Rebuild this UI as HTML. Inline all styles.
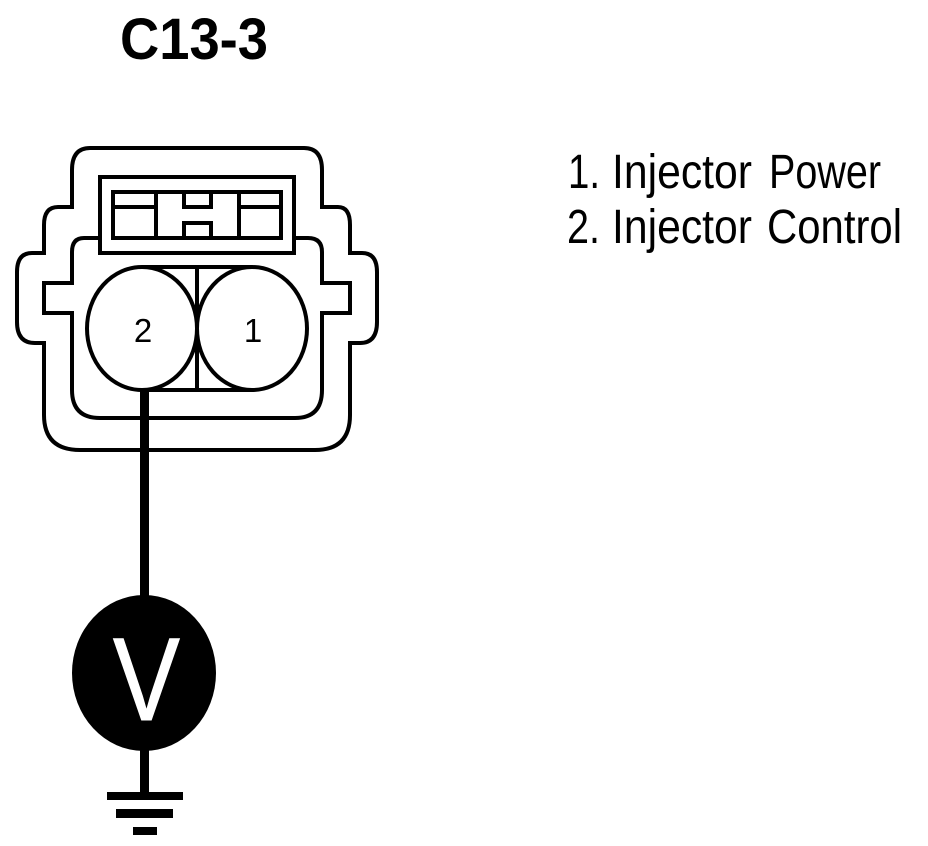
<!DOCTYPE html>
<html><head><meta charset="utf-8"><style>html,body{margin:0;padding:0;background:#fff}svg{display:block}</style></head>
<body>
<svg width="928" height="846" viewBox="0 0 928 846" xmlns="http://www.w3.org/2000/svg" font-family="'Liberation Sans',sans-serif">
<rect width="928" height="846" fill="#fff"/>
<text x="120" y="59" font-size="58" font-weight="bold" textLength="148" lengthAdjust="spacingAndGlyphs">C13-3</text>
<g font-size="48">
<text x="568" y="188" textLength="32" lengthAdjust="spacingAndGlyphs">1.</text>
<text x="612" y="188" textLength="140" lengthAdjust="spacingAndGlyphs">Injector</text>
<text x="769" y="188" textLength="112" lengthAdjust="spacingAndGlyphs">Power</text>
<text x="567" y="243" textLength="33" lengthAdjust="spacingAndGlyphs">2.</text>
<text x="612" y="243" textLength="140" lengthAdjust="spacingAndGlyphs">Injector</text>
<text x="767" y="243" textLength="135" lengthAdjust="spacingAndGlyphs">Control</text>
</g>
<g fill="none" stroke="#000" stroke-width="4">
<path d="M90 148H304Q322 148 322 170V207H338Q350 207 350 225V253H362Q377 253 377 272V322Q377 343 360 343H350V415Q350 450 315 450H80Q44 450 44 415V343H35Q17 343 17 322V272Q17 253 32 253H44V225Q44 207 58 207H72V170Q72 148 90 148Z"/>
<path d="M100 238H84Q72 238 72 252V283H44V313H72V390Q72 418 100 418H295Q322 418 322 390V313H350V283H322V252Q322 238 308 238H294"/>
<rect x="100" y="177" width="194" height="76"/>
<rect x="113" y="192" width="168" height="46"/>
<path d="M113 207H156M156 192V238M184 192V207H211V192M184 238V223H211V238M239 192V238M239 207H281"/>
<path d="M142 267H252M142 390H252M197 267V390"/>
<ellipse cx="142" cy="328.500" rx="55" ry="61.500" fill="#fff"/>
<ellipse cx="252" cy="328.500" rx="55" ry="61.500" fill="#fff"/>
</g>
<text x="143" y="342" font-size="33" text-anchor="middle">2</text>
<text x="253" y="342" font-size="33" text-anchor="middle">1</text>
<rect x="140" y="390" width="9" height="210"/>
<ellipse cx="144" cy="673" rx="72" ry="78"/>
<rect x="140" y="750" width="9" height="44"/>
<rect x="107" y="792" width="76" height="8"/>
<rect x="116" y="809" width="57" height="9"/>
<rect x="133" y="827" width="24" height="8"/>
<text transform="translate(146.500 720) scale(.85 1)" font-size="118" fill="#fff" stroke="#fff" stroke-width="1" text-anchor="middle">V</text>
</svg>
</body></html>
